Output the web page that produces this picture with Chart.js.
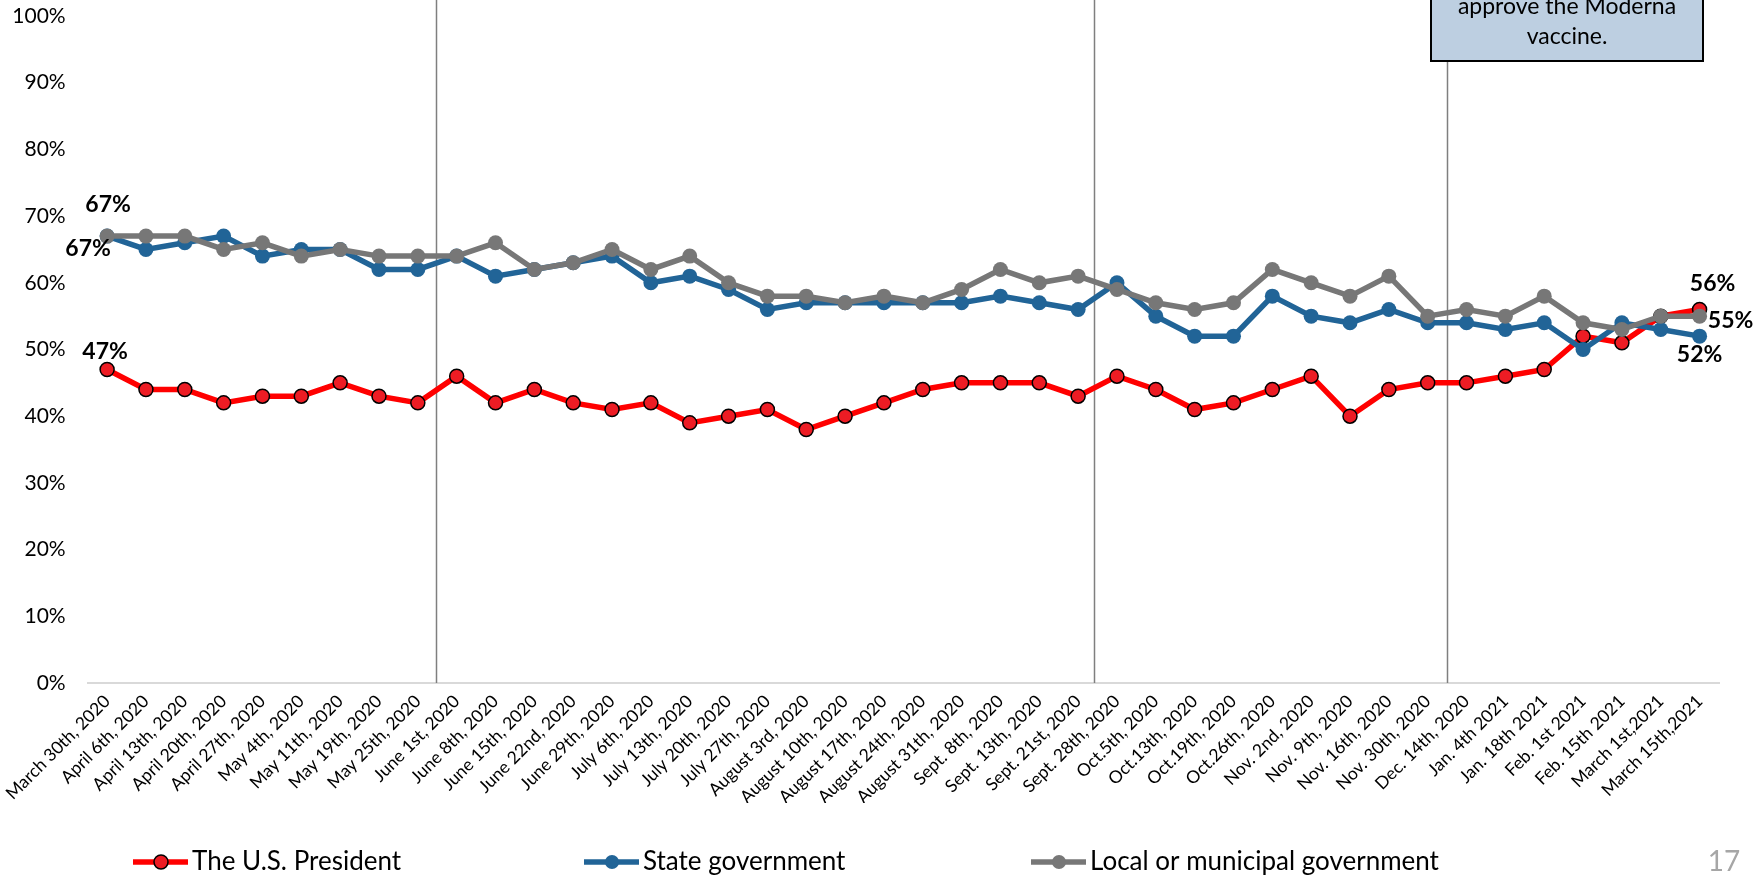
<!DOCTYPE html>
<html>
<head>
<meta charset="utf-8">
<script src="https://cdn.jsdelivr.net/npm/chart.js@4.4.1/dist/chart.umd.min.js"></script>
<style>
  body { margin: 0; background: #fff; }
  #wrap { width: 1753px; height: 876px; }
</style>
</head>
<body>
<div id="wrap"><canvas id="grafico" width="1753" height="876"></canvas></div>
<script>
const dates = [
    "March 30th, 2020", "April 6th, 2020", "April 13th, 2020", "April 20th, 2020", "April 27th, 2020",
    "May 4th, 2020", "May 11th, 2020", "May 19th, 2020", "May 25th, 2020", "June 1st, 2020",
    "June 8th, 2020", "June 15th, 2020", "June 22nd, 2020", "June 29th, 2020", "July 6th, 2020",
    "July 13th, 2020", "July 20th, 2020", "July 27th, 2020", "August 3rd, 2020", "August 10th, 2020",
    "August 17th, 2020", "August 24th, 2020", "August 31th, 2020", "Sept. 8th, 2020", "Sept. 13th, 2020",
    "Sept. 21st, 2020", "Sept. 28th, 2020", "Oct.5th, 2020", "Oct.13th, 2020", "Oct.19th, 2020",
    "Oct.26th, 2020", "Nov. 2nd, 2020", "Nov. 9th, 2020", "Nov. 16th, 2020", "Nov. 30th, 2020",
    "Dec. 14th, 2020", "Jan. 4th 2021", "Jan. 18th 2021", "Feb. 1st 2021", "Feb. 15th 2021",
    "March 1st,2021", "March 15th,2021"
];

const president = [47, 44, 44, 42, 43, 43, 45, 43, 42, 46, 42, 44, 42, 41, 42, 39, 40, 41, 38, 40,
    42, 44, 45, 45, 45, 43, 46, 44, 41, 42, 44, 46, 40, 44, 45, 45, 46, 47, 52, 51, 55, 56];
const stateGov = [67, 65, 66, 67, 64, 65, 65, 62, 62, 64, 61, 62, 63, 64, 60, 61, 59, 56, 57, 57,
    57, 57, 57, 58, 57, 56, 60, 55, 52, 52, 58, 55, 54, 56, 54, 54, 53, 54, 50, 54, 53, 52];
const localGov = [67, 67, 67, 65, 66, 64, 65, 64, 64, 64, 66, 62, 63, 65, 62, 64, 60, 58, 58, 57,
    58, 57, 59, 62, 60, 61, 59, 57, 56, 57, 62, 60, 58, 61, 55, 56, 55, 58, 54, 53, 55, 55];

const seriesNames = ["The U.S. President", "State government", "Local or municipal government"];

// event markers sit between two survey dates (category index)
const eventLines = [8.47, 25.4, 34.5];
const noteLines = ["approve the Moderna", "vaccine."];

// which points get a value label: [dataset, point index]
const valueLabels = [[2, 0], [1, 0], [0, 0], [0, 41], [2, 41], [1, 41]];

const RED = "#ff0000";
const BLUE = "#216497";
const GREY = "#777777";

const labelOffsets = { "2-0": [1, -32], "1-0": [-19, 12], "0-0": [-2, -18], "0-41": [13, -26], "2-41": [31, 4], "1-41": [0, 18] };

const extras = {
    id: "extras",
    beforeDatasetsDraw(chart) {
        const ctx = chart.ctx;
        const x = chart.scales.x;
        const bottom = chart.chartArea.bottom;
        ctx.save();
        ctx.strokeStyle = "#7f7f7f";
        ctx.lineWidth = 1.5;
        eventLines.forEach((pos, k) => {
            const px = Math.round(x.getPixelForValue(pos)) + 0.5;
            ctx.beginPath();
            ctx.moveTo(px, k === 2 ? 61 : 0);
            ctx.lineTo(px, bottom);
            ctx.stroke();
        });
        ctx.restore();
    },
    afterDatasetsDraw(chart) {
        const ctx = chart.ctx;
        ctx.save();
        ctx.font = "bold 23px Lato";
        ctx.fillStyle = "#000";
        ctx.textAlign = "center";
        ctx.textBaseline = "middle";
        valueLabels.forEach(([d, i]) => {
            const pt = chart.getDatasetMeta(d).data[i];
            const off = labelOffsets[d + "-" + i];
            const v = chart.data.datasets[d].data[i];
            ctx.fillText(v + "%", pt.x + off[0], pt.y + off[1]);
        });
        ctx.restore();
    },
    afterDraw(chart) {
        const ctx = chart.ctx;
        ctx.save();
        // note box at the top right
        ctx.fillStyle = "#bdcfe1";
        ctx.fillRect(1431, -10, 272, 71);
        ctx.strokeStyle = "#000";
        ctx.lineWidth = 2;
        ctx.strokeRect(1431, -10, 272, 71);
        ctx.fillStyle = "#000";
        ctx.font = "23px Lato";
        ctx.textAlign = "center";
        ctx.textBaseline = "middle";
        noteLines.forEach((t, k) => ctx.fillText(t, 1567, 7 + k * 30));

        // legend
        const legendX = [133, 584, 1031];
        const colors = [RED, BLUE, GREY];
        const ly = 862;
        legendX.forEach((lx, k) => {
            ctx.strokeStyle = colors[k];
            ctx.lineWidth = 5.5;
            ctx.beginPath();
            ctx.moveTo(lx, ly);
            ctx.lineTo(lx + 55, ly);
            ctx.stroke();
            ctx.beginPath();
            ctx.arc(lx + 28, ly, 7, 0, Math.PI * 2);
            ctx.fillStyle = k === 0 ? "#ed1c24" : colors[k];
            ctx.fill();
            if (k === 0) {
                ctx.strokeStyle = "#000";
                ctx.lineWidth = 1.5;
                ctx.stroke();
            }
            ctx.fillStyle = "#000";
            ctx.font = "26px Lato";
            ctx.textAlign = "left";
            ctx.fillText(seriesNames[k], lx + 59, ly);
        });

        // page number
        ctx.fillStyle = "#a6a6a6";
        ctx.font = "28px Lato";
        ctx.textAlign = "center";
        ctx.fillText("17", 1724, 862);
        ctx.restore();
    }
};

Chart.defaults.font.family = "Lato";
Chart.defaults.color = "#000";

new Chart(document.getElementById("grafico"), {
    type: "line",
    data: {
        labels: dates,
        datasets: [{
            label: seriesNames[0],
            data: president,
            borderColor: RED,
            borderWidth: 5.5,
            pointRadius: 7,
            pointBackgroundColor: "#ed1c24",
            pointBorderColor: "#000",
            pointBorderWidth: 1.5,
            order: 3
        }, {
            label: seriesNames[1],
            data: stateGov,
            borderColor: BLUE,
            borderWidth: 5.5,
            pointRadius: 7.5,
            pointBackgroundColor: BLUE,
            pointBorderColor: BLUE,
            pointBorderWidth: 0,
            order: 2
        }, {
            label: seriesNames[2],
            data: localGov,
            borderColor: GREY,
            borderWidth: 5.5,
            pointRadius: 7.5,
            pointBackgroundColor: GREY,
            pointBorderColor: GREY,
            pointBorderWidth: 0,
            order: 1
        }]
    },
    options: {
        responsive: false,
        animation: false,
        layout: { padding: { top: 16, right: 34, bottom: 73, left: 0 } },
        plugins: {
            legend: { display: false },
            tooltip: { enabled: false }
        },
        scales: {
            x: {
                offset: true,
                grid: { display: false, drawTicks: false },
                border: { display: true, color: "#d9d9d9", width: 2 },
                ticks: {
                    autoSkip: false,
                    minRotation: 45,
                    maxRotation: 45,
                    padding: 8,
                    font: { size: 17.5 }
                },
                afterFit(scale) { scale.height = 120; }
            },
            y: {
                min: 0,
                max: 100,
                grid: { display: false, drawTicks: false },
                border: { display: false },
                ticks: {
                    stepSize: 10,
                    padding: 22,
                    font: { size: 21 },
                    callback: v => v + "%"
                },
                afterFit(scale) {
                    scale.width = 87;
                    // the tick padding is horizontal here, don't let it push the top down
                    scale.paddingTop = 0;
                    scale.paddingBottom = 0;
                }
            }
        }
    },
    plugins: [extras]
});
</script>
</body>
</html>
